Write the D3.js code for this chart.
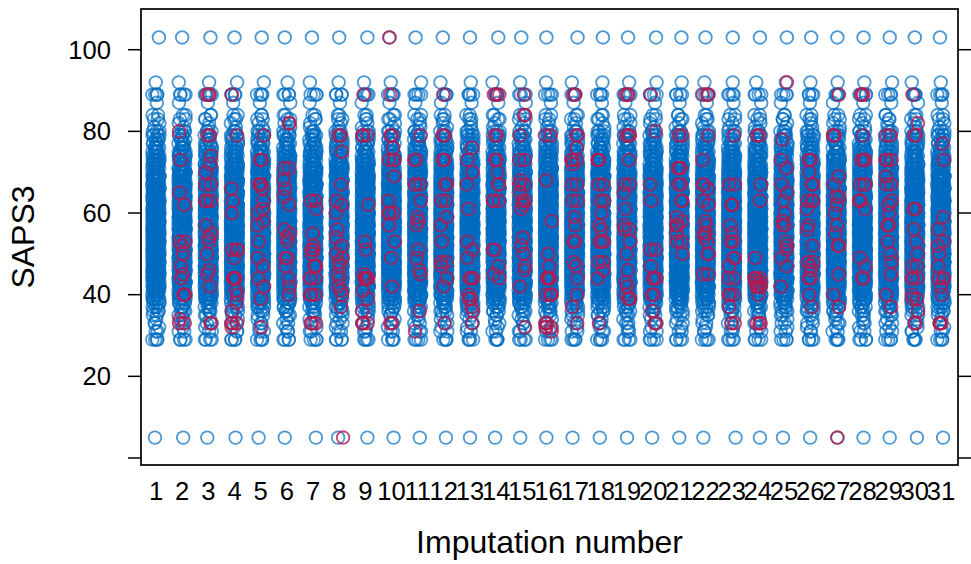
<!DOCTYPE html>
<html><head><meta charset="utf-8">
<script src="https://cdn.jsdelivr.net/npm/d3@7"></script>
<style>html,body{margin:0;background:#fff}svg{display:block}text{font-family:"Liberation Sans",Arial,sans-serif;fill:#000}</style>
</head><body><div id="c"></div>
<script>
const yTicks=[0,20,40,60,80,100];
const yTickLabels=["","20","40","60","80","100"];
const imputationNumbers=d3.range(1,32);
// observed SAPS3 values and how many records carry each, shared by all imputations
const observedValues=[29,31,32,33,34,35,36,37,38,39,40,41,42,43,44,45,46,47,48,49,50,51,52,53,54,55,56,57,58,59,60,61,62,63,64,65,66,67,68,69,70,71,72,73,74,75,76,77,78,79,80,81,82,83,84,87,89,92];
const observedCounts=[4,2,1,2,1,2,3,3,4,6,8,8,9,10,10,11,12,12,12,12,12,12,12,12,12,12,12,12,12,12,12,11,11,11,10,10,10,10,9,9,8,8,7,6,6,5,4,4,3,4,3,1,1,2,2,1,4,1];
const highOutlier=103, lowOutlier=5;
const highJitter=[.11,0,.08,0,.04,-.08,-.04,0,.08,-.08,-.08,-.04,0,.08,-.04,-.08,.11,.08,.04,.11,.08,0,.04,.08,.11,.04,.04,.04,.04,0,-.04];
const lowJitter=[-.04,.04,-.04,.04,-.08,-.08,.11,-.04,.08,.08,.08,.08,0,-.04,-.08,-.08,-.08,-.04,0,-.04,0,-.08,.15,.08,-.04,0,.04,.04,.04,.08,.08];
const observedJitter=[.03,-.11,.07,-.05,.13,-.01,-.13,.04,.1,-.08,.01,-.12,.06,.13,-.03,.09,-.13,.03,-.06,.12,-.09,.05,-.02,.08,-.12,.13,-.04,.03,-.14,.07];
const imputedJitter=[.02,-.09,.1,-.04,.12,-.12,.06,-.01,-.07,.11,.03,-.11,.08,-.05,.09,-.1];
// imputed values sitting away from the cloud, with their own horizontal offset: [imputation, value, offset]
const imputedOutliers=[[8,5,.15],[10,103,-.08],[25,92,.11],[27,5,.04]];
const imputed=[
[],
[80,73,65,62,53,53,52,50,47,45,44,40,40,40,34,33,33],
[89,89,89,79,79,74,72,70,67,67,63,63,63,57,55,54,53,50,46,45,42,33,33],
[89,79,66,63,60,51,51,51,49,44,44,44,44,41,40,38,36,33,33,33,32],
[79,73,73,67,67,67,66,63,61,60,58,57,53,49,47,44,42,39,32],
[82,82,71,71,68,66,64,62,56,55,54,53,49,49,47,44,42,40],
[63,63,61,55,52,51,51,50,47,47,47,44,44,44,40,40,40,33,33,33],
[79,79,75,67,63,62,60,56,54,52,50,49,48,47,45,44,42,41,40,37],
[89,79,79,79,62,53,51,45,44,44,44,44,44,41,39,36,33,33,33],
[89,79,79,76,73,73,73,69,63,60,60,60,57,53,49,42,33,33],
[79,73,73,67,67,67,63,59,58,57,51,49,46,45,36,31],
[89,79,79,73,73,67,67,63,63,59,57,53,48,48,47,44,42,33],
[76,73,70,67,61,53,51,49,44,44,44,40,39,39,37,36,33],
[89,89,89,79,79,73,73,70,67,67,63,63,63,51,51,47,45,44],
[89,84,84,79,73,73,68,67,67,65,63,63,62,61,54,52,50,47,46,42,32],
[79,79,68,58,50,47,44,44,44,44,40,40,40,40,33,33,32,32,32,31],
[89,89,79,79,76,73,73,73,72,67,67,63,63,59,57,53,53,48,47,44,40,37,33],
[73,73,73,67,67,63,63,60,57,56,53,53,53,48,48,46,44,33],
[89,89,89,79,79,79,73,67,67,65,61,57,56,56,53,50,46,43,42,40,39,39],
[89,80,67,63,51,51,47,44,44,44,40,40,36,33,33],
[79,79,71,71,71,67,67,63,63,59,58,57,57,55,53,53,50],
[89,89,89,79,73,67,67,66,63,62,58,57,55,55,54,53,50,50,45,45],
[79,67,67,62,62,57,55,53,53,49,49,47,44,44,40,40,40,37,33,33],
[79,79,67,63,49,44,44,44,44,43,43,42,42,42,42,40,33,33,33],
[78,73,71,67,65,63,60,58,57,57,53,52,51,49,47,42],
[73,73,70,67,67,63,63,63,61,57,56,52,48,48,47,46,44,44,40,37],
[89,79,79,79,69,67,64,64,62,60,57,55,52,52,45,40,37],
[89,89,89,79,73,73,73,67,67,67,63,63,63,61,49,47,44,44],
[79,79,73,73,73,69,67,67,63,62,60,57,57,53,50,48,45,40,37],
[89,82,79,79,61,61,56,53,50,47,47,44,44,44,40,39,39,36,33,33],
[77,73,59,56,53,52,50,47,44,44,44,42,40,33,33,33]
];
const xTitle="Imputation number", yTitle="SAPS3";
const observedColor="#006CC2", imputedColor="#B61A51";

const W=971,H=564,L=141,R=958,T=9,B=465;
const svg=d3.select("#c").append("svg").attr("width",W).attr("height",H);
const x=d3.scaleLinear().domain([1,31]).range([156,941]);
const y=d3.scaleLinear().domain([0,100]).range([458,49.7]);

const obs=[], imp=[];
imputationNumbers.forEach((n,c)=>{
  obs.push({n,j:highJitter[c],v:highOutlier});
  obs.push({n,j:lowJitter[c],v:lowOutlier});
  let k=c*11;
  observedValues.forEach((v,vi)=>{
    d3.range(observedCounts[vi]).forEach(()=>{
      k+=7;
      obs.push({n,j:observedJitter[k%observedJitter.length],v});
    });
  });
  imputed[c].forEach((v,i)=>{
    imp.push({n,j:imputedJitter[(i*3+c*5)%imputedJitter.length],v});
  });
});
imputedOutliers.forEach(([n,v,j])=>imp.push({n,j,v}));
const ring=(sel,data,col,op,sw)=>sel.selectAll(null).data(data).join("circle")
  .attr("cx",d=>x(d.n+d.j)).attr("cy",d=>y(d.v)).attr("r",6.3)
  .attr("fill","none").attr("stroke",col).attr("stroke-opacity",op).attr("stroke-width",sw);
const marks=svg.append("g");
ring(marks,obs,observedColor,.7,1.8);
ring(marks,imp,imputedColor,.78,1.95);

svg.append("rect").attr("x",L).attr("y",T).attr("width",R-L).attr("height",B-T)
  .attr("fill","none").attr("stroke","#000").attr("stroke-width",1.7);
const tickG=svg.append("g").attr("stroke","#000").attr("stroke-width",1.5);
yTicks.forEach(t=>{
  tickG.append("line").attr("x1",L-13).attr("x2",L).attr("y1",y(t)).attr("y2",y(t));
  tickG.append("line").attr("x1",R).attr("x2",R+13).attr("y1",y(t)).attr("y2",y(t));
});
const fs=25.6;
yTickLabels.forEach((s,i)=>{ if(s) svg.append("text").attr("x",111).attr("y",y(yTicks[i])+8.8).attr("text-anchor","end").attr("font-size",fs).text(s);});
imputationNumbers.forEach(n=>svg.append("text").attr("x",x(n)).attr("y",500).attr("text-anchor","middle").attr("font-size",fs).text(n));
svg.append("text").attr("x",549.5).attr("y",553).attr("text-anchor","middle").attr("font-size",32).text(xTitle);
svg.append("text").attr("transform","translate(34,237) rotate(-90)").attr("text-anchor","middle").attr("font-size",32).text(yTitle);
</script></body></html>
